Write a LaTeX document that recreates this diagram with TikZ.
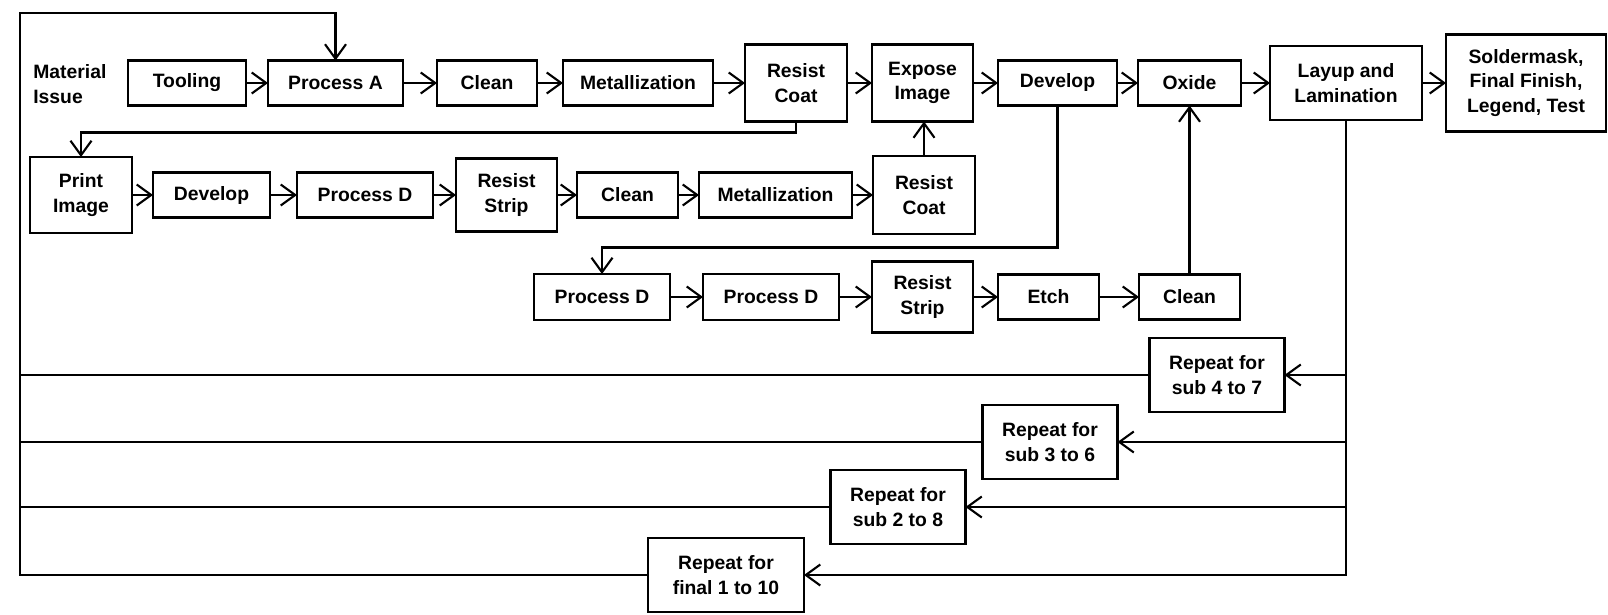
\documentclass[tikz,border=0pt]{standalone}
\usepackage{fontspec}
\setmainfont{Liberation Sans}
\usetikzlibrary{arrows.meta, positioning, calc}
\tikzset{
  stepbox/.style={
    rectangle, draw=black, line width=1.2pt, inner sep=0pt, outer sep=0pt, minimum height=9mm,
    align=center, font=\bfseries\fontsize{11}{14}\selectfont
  },
  tallbox/.style={stepbox, minimum height=15.4mm},
  repeatbox/.style={stepbox, minimum height=14.8mm, minimum width=27mm},
  flow/.style={-{Straight Barb[length=2.9mm,width=4.2mm]}, line width=1.2pt},
  loopline/.style={line width=1.2pt}
}

\begin{document}
\begin{tikzpicture}[x=0.2mm, y=-0.2mm]
    \useasboundingbox (0,0) rectangle (1608,614);
    \node[anchor=west, align=left, inner sep=0pt, font=\bfseries\fontsize{11}{14}\selectfont] (matl) at (33,84) {Material\\Issue};
    \node[stepbox, anchor=west, minimum width=23.6mm] (tool) at (128,83) {Tooling};
    \node[stepbox, right=4.4mm of tool, minimum width=27mm] (procA) {Process A};
    \node[stepbox, right=6.8mm of procA, minimum width=20mm] (cleanA) {Clean};
    \node[stepbox, right=5.2mm of cleanA, minimum width=30mm] (metalA) {Metallization};
    \node[tallbox, right=6.4mm of metalA, minimum width=20.4mm] (rcA) {Resist\\Coat};
    \node[tallbox, right=5mm of rcA, minimum width=20.2mm] (expo) {Expose\\Image};
    \node[stepbox, right=5mm of expo, minimum width=23.8mm] (devA) {Develop};
    \node[stepbox, right=4.2mm of devA, minimum width=20.6mm] (oxide) {Oxide};
    \node[tallbox, right=5.8mm of oxide, minimum width=30.4mm, minimum height=14.8mm] (layup) {Layup and\\Lamination};
    \node[stepbox, right=4.8mm of layup, minimum width=32mm, minimum height=19.4mm] (solder) {Soldermask,\\Final Finish,\\Legend, Test};

    \node[tallbox, anchor=west, minimum width=20.4mm, minimum height=15.2mm] (print) at (30,195) {Print\\Image};
    \node[stepbox, right=4.2mm of print, minimum width=23.4mm] (devB) {Develop};
    \node[stepbox, right=5.4mm of devB, minimum width=27.2mm] (pdB) {Process D};
    \node[tallbox, right=4.6mm of pdB, minimum width=20.2mm, minimum height=14.6mm] (rsB) {Resist\\Strip};
    \node[stepbox, right=4mm of rsB, minimum width=20.2mm] (cleanB) {Clean};
    \node[stepbox, right=4.2mm of cleanB, minimum width=30.6mm] (metalB) {Metallization};
    \node[tallbox, right=4.2mm of metalB, minimum width=20.4mm, minimum height=15.6mm] (rcB) {Resist\\Coat};

    \node[stepbox, anchor=west, minimum width=27.2mm, minimum height=9.2mm] (pdC) at (534,297) {Process D};
    \node[stepbox, right=6.6mm of pdC, minimum width=27.2mm, minimum height=9.2mm] (pdD) {Process D};
    \node[tallbox, right=6.6mm of pdD, minimum width=20.2mm, minimum height=14.2mm] (rsC) {Resist\\Strip};
    \node[stepbox, right=5mm of rsC, minimum width=20.2mm] (etch) {Etch};
    \node[stepbox, right=8mm of etch, minimum width=20.2mm] (cleanC) {Clean};

    \node[repeatbox] (rA) at (1217,375) {Repeat for\\sub 4 to 7};
    \node[repeatbox] (rB) at (1050,442) {Repeat for\\sub 3 to 6};
    \node[repeatbox] (rC) at (898,507) {Repeat for\\sub 2 to 8};
    \node[repeatbox, minimum width=31.2mm] (rD) at (726,575) {Repeat for\\final 1 to 10};
    \coordinate (corner) at (20,13);

    \draw[flow] (tool) -- (procA);
    \draw[flow] (procA) -- (cleanA);
    \draw[flow] (cleanA) -- (metalA);
    \draw[flow] (metalA) -- (rcA);
    \draw[flow] (rcA) -- (expo);
    \draw[flow] (expo) -- (devA);
    \draw[flow] (devA) -- (oxide);
    \draw[flow] (oxide) -- (layup);
    \draw[flow] (layup) -- (solder);
    \draw[flow] (rcA.south) -- ++(0,11) -| (print.north);
    \draw[flow] (print) -- (devB);
    \draw[flow] (devB) -- (pdB);
    \draw[flow] (pdB) -- (rsB);
    \draw[flow] (rsB) -- (cleanB);
    \draw[flow] (cleanB) -- (metalB);
    \draw[flow] (metalB) -- (rcB);
    \draw[flow] (rcB.north) -- (rcB.north |- expo.south);
    \draw[flow] (devA.south) -- ++(0,142) -| (pdC.north);
    \draw[flow] (pdC) -- (pdD);
    \draw[flow] (pdD) -- (rsC);
    \draw[flow] (rsC) -- (etch);
    \draw[flow] (etch) -- (cleanC);
    \draw[flow] (cleanC.north) -- (cleanC.north |- oxide.south);

    \draw[flow] (layup.south) |- (rA.east);
    \draw[flow] (layup.south) |- (rB.east);
    \draw[flow] (layup.south) |- (rC.east);
    \draw[flow] (layup.south) |- (rD.east);
    \draw[loopline] (rA.west) -- (rA.west -| corner);
    \draw[loopline] (rB.west) -- (rB.west -| corner);
    \draw[loopline] (rC.west) -- (rC.west -| corner);
    \draw[flow] (rD.west) -| (corner) -| (procA.north);
\end{tikzpicture}
\end{document}
